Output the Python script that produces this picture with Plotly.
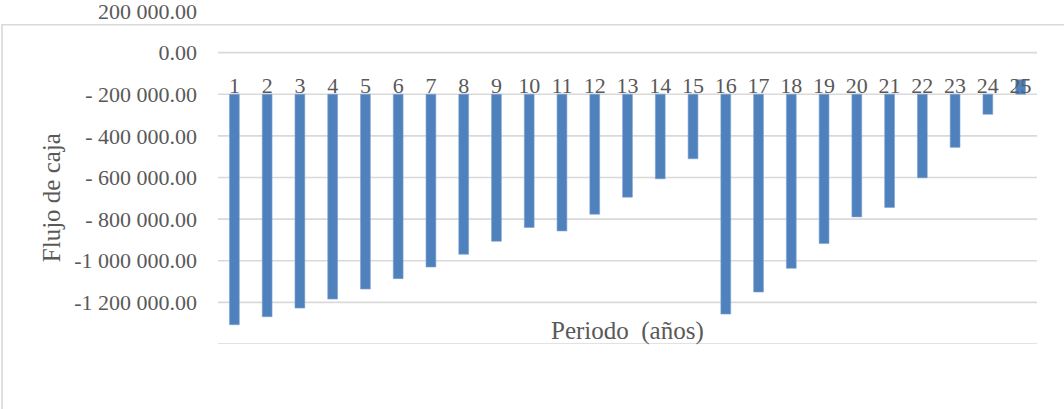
import plotly.graph_objects as go

# Cash flow per period (years 1-25)
periodos = [str(i) for i in range(1, 26)]
flujo = [
    -1307400, -1268900, -1227400, -1184100, -1135900, -1085900, -1030000,
    -968900, -906300, -840300, -856700, -776300, -694500, -606300, -510000,
    -1256300, -1150400, -1036300, -917400, -789300, -744000, -601500,
    -455200, -296300, -130000,
]

# Horizontal axis crosses the value axis here; bars hang from this level
cruce = -200000

y_ticks = [200000, 0, -200000, -400000, -600000, -800000, -1000000, -1200000, -1400000]
y_ticktext = ["200 000.00", "0.00", "- 200 000.00", "- 400 000.00", "- 600 000.00",
              "- 800 000.00", "-1 000 000.00", "-1 200 000.00", ""]
grid_vals = [0, -200000, -400000, -600000, -800000, -1000000, -1200000, -1400000]

FONT = "Liberation Serif, Times New Roman, serif"
GRAY = "#595959"
GRID = "#D9D9D9"
BLUE = "#4F81BD"

fig = go.Figure(
    go.Bar(
        x=periodos,
        y=[v - cruce for v in flujo],
        base=cruce,
        marker=dict(color=BLUE, line=dict(color="#7EA3D1", width=0.6)),
        width=0.3,
        hoverinfo="skip",
    )
)

shapes = [
    dict(type="line", xref="paper", yref="y", x0=0, x1=1, y0=g, y1=g,
         line=dict(color=GRID, width=1.6), layer="below")
    for g in grid_vals
]
# light chart-area frame (left and top edges)
shapes.append(dict(type="path", xref="paper", yref="paper",
                   path="M -0.2637,-0.3 L -0.2637,0.9585 L 1.04,0.9585",
                   line=dict(color=GRID, width=1.6), layer="below"))

fig.update_layout(
    width=1064,
    height=409,
    margin=dict(l=218, r=27, t=11, b=65, autoexpand=False),
    paper_bgcolor="white",
    plot_bgcolor="white",
    showlegend=False,
    font=dict(family=FONT, color=GRAY, size=22),
    shapes=shapes,
    xaxis=dict(
        type="category",
        anchor="free",
        position=(cruce - y_ticks[-1]) / (y_ticks[0] - y_ticks[-1]),
        side="top",
        showgrid=False,
        showline=False,
        zeroline=False,
        automargin=False,
        ticks="",
        tickangle=0,
        ticklabelstandoff=-3,
        tickfont=dict(family=FONT, color=GRAY, size=22),
    ),
    yaxis=dict(
        range=[y_ticks[-1], y_ticks[0]],
        tickvals=y_ticks,
        ticktext=y_ticktext,
        showgrid=False,
        zeroline=False,
        showline=False,
        automargin=False,
        ticks="",
        ticklabelstandoff=20,
        ticklabeloverflow="allow",
        tickfont=dict(family=FONT, color=GRAY, size=22),
    ),
    annotations=[
        dict(text="Flujo de caja", xref="paper", yref="paper",
             x=-0.203, y=0.44, textangle=-90, showarrow=False,
             xanchor="center", yanchor="middle",
             font=dict(family=FONT, color=GRAY, size=25)),
        dict(text="Periodo  (años)", xref="paper", yref="paper",
             x=0.5, y=0.04, showarrow=False,
             xanchor="center", yanchor="middle",
             font=dict(family=FONT, color=GRAY, size=25)),
    ],
    bargap=0.7,
)

fig.write_html("out.html")
